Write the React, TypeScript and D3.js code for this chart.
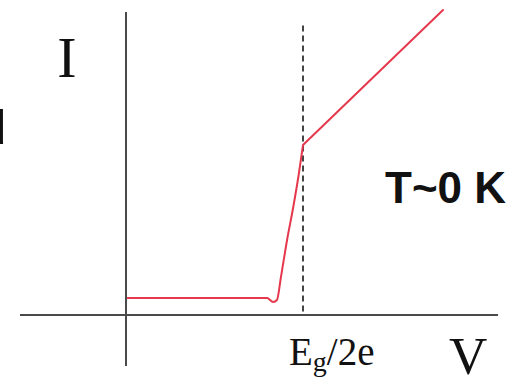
import React from "react";
import * as d3 from "d3";

// Schematic I–V characteristic of a superconducting tunnel junction at T ≈ 0 K.
// Voltage in units of Eg/2e, current in arbitrary units.
const gapVoltage = 1;
const subgapV = [0.006, 0.797, 0.831, 0.853, 0.875, 0.91, 0.945, 0.975, 1.0];
const subgapI = [0.113, 0.113, 0.087, 0.1, 0.25, 0.5, 0.72, 0.93, 1.133];
const ohmicV = [1.0, 1.791];
const ohmicI = [1.133, 2.033];

const axisVRange = [-0.599, 2.102];
const axisIRange = [-0.34, 2.02];

const W = 521;
const H = 380;

export default function App() {
  const x = d3.scaleLinear().domain([0, 1]).range([126, 303]);
  const y = d3.scaleLinear().domain([0, 2]).range([315, 15]);

  const toPts = (vs: number[], is: number[]) => vs.map((v, i) => [v, is[i]] as [number, number]);

  const smooth = d3
    .line<[number, number]>()
    .x((d) => x(d[0]))
    .y((d) => y(d[1]))
    .curve(d3.curveMonotoneX);
  const straight = d3
    .line<[number, number]>()
    .x((d) => x(d[0]))
    .y((d) => y(d[1]));

  const red = "#e6384c";
  const axisColor = "#4a4a4a";

  return (
    <svg
      width={W}
      height={H}
      style={{ position: "fixed", left: 0, top: 0, background: "#fff" }}
    >
      <rect width={W} height={H} fill="#fff" />

      {/* clipped glyph at the left edge */}
      <text x={-21} y={144} fontFamily="Liberation Sans, Arial, sans-serif" fontSize={49} fill="#111">
        d
      </text>

      {/* axes */}
      <line x1={x(axisVRange[0])} x2={x(axisVRange[1])} y1={y(0)} y2={y(0)} stroke={axisColor} strokeWidth={2} />
      <line x1={x(0)} x2={x(0)} y1={y(axisIRange[1])} y2={y(axisIRange[0])} stroke={axisColor} strokeWidth={2} />

      {/* gap voltage marker */}
      <line
        x1={x(gapVoltage)}
        x2={x(gapVoltage)}
        y1={y(1.93)}
        y2={y(0)}
        stroke="#444"
        strokeWidth={2}
        strokeDasharray="6 4"
      />

      {/* I–V curve */}
      <path d={smooth(toPts(subgapV, subgapI)) || ""} fill="none" stroke={red} strokeWidth={2} strokeLinejoin="round" />
      <path d={straight(toPts(ohmicV, ohmicI)) || ""} fill="none" stroke={red} strokeWidth={2} strokeLinecap="round" />

      {/* axis labels */}
      <text x={67} y={77} textAnchor="middle" fontFamily="Liberation Serif, Times New Roman, serif" fontSize={58} fill="#111">
        I
      </text>
      <text x={449} y={374} fontFamily="Liberation Serif, Times New Roman, serif" fontSize={53} fill="#111">
        V
      </text>
      <text x={289} y={365} fontFamily="Liberation Serif, Times New Roman, serif" fontSize={39} fill="#111">
        E
        <tspan fontSize={28} dy={6}>g</tspan>
        <tspan dy={-6}>/2e</tspan>
      </text>

      <text x={385} y={203} fontFamily="Liberation Sans, Arial, sans-serif" fontWeight="bold" fontSize={44} fill="#111">
        T~0 K
      </text>
    </svg>
  );
}
